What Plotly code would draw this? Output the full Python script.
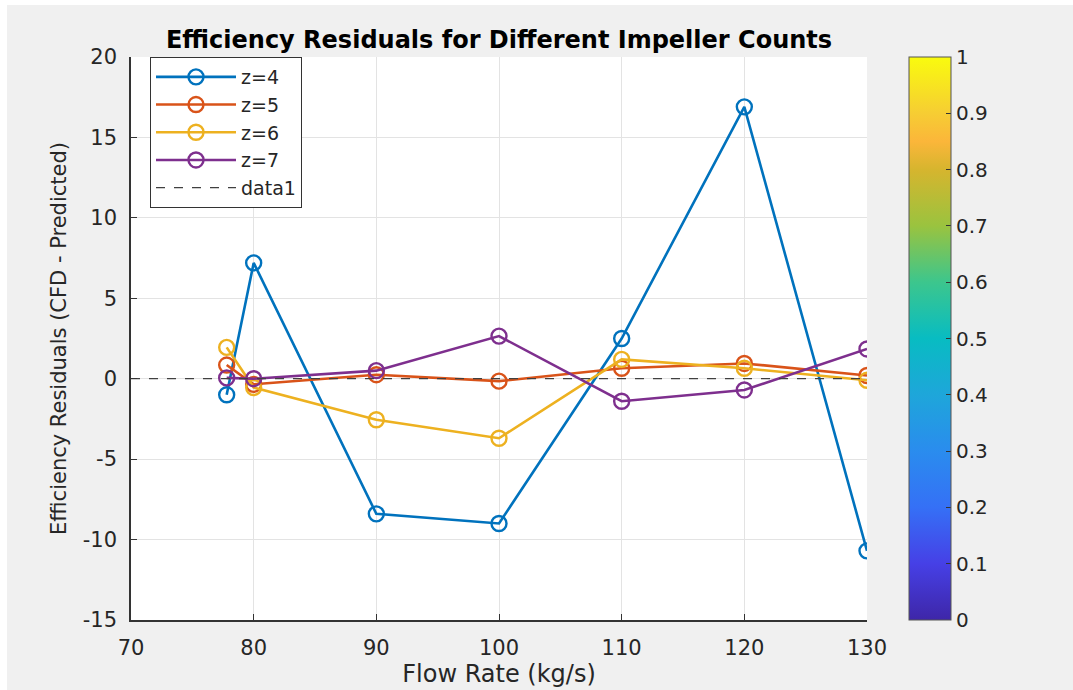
import plotly.graph_objects as go

flow = [77.8, 80, 90, 100, 110, 120, 130]
z4 = [-1.0, 7.2, -8.4, -9.0, 2.5, 16.9, -10.7]
z5 = [0.85, -0.35, 0.25, -0.15, 0.65, 0.95, 0.2]
z6 = [1.95, -0.55, -2.55, -3.7, 1.2, 0.65, -0.1]
z7 = [0.05, 0.0, 0.5, 2.65, -1.4, -0.7, 1.85]
series_names = ["z=4", "z=5", "z=6", "z=7"]
series_colors = ["#0072BD", "#D95319", "#EDB120", "#7E2F8E"]
ref_x = [70, 130]
ref_y = [0, 0]
xticks = [70, 80, 90, 100, 110, 120, 130]
yticks = [-15, -10, -5, 0, 5, 10, 15, 20]
cbar_ticks = [0, 0.1, 0.2, 0.3, 0.4, 0.5, 0.6, 0.7, 0.8, 0.9, 1]

parula = [
    [0.0, "#3e26a8"], [0.1, "#4640e6"], [0.2, "#3570f6"], [0.3, "#2a8cee"],
    [0.4, "#1ea6da"], [0.5, "#08bcc2"], [0.6, "#3cc68d"], [0.7, "#9ac33f"],
    [0.8, "#d6b52e"], [0.85, "#fbb63a"], [0.9, "#f6cd33"], [1.0, "#f9fb0e"],
]

TXT = "#262626"
FONT = "DejaVu Sans, Liberation Sans, Arial, sans-serif"

# plot-area pixel box
L, R, T, B = 131, 867, 57, 620
W, H = 1073, 690
PW, PH = R - L, B - T

fig = go.Figure()
for name, ys, col in zip(series_names, [z4, z5, z6, z7], series_colors):
    fig.add_trace(go.Scatter(
        x=flow, y=ys, name=name, mode="lines+markers",
        line=dict(color=col, width=2.6),
        marker=dict(symbol="circle-open", size=15, color=col, line=dict(width=2.4, color=col)),
    ))
fig.add_trace(go.Scatter(
    x=ref_x, y=ref_y, name="data1", mode="lines",
    line=dict(color="#404040", width=1.2, dash="dash"),
))
fig.add_trace(go.Scatter(
    x=[None], y=[None], mode="markers", showlegend=False, hoverinfo="skip",
    marker=dict(size=0, color=[0, 1], cmin=0, cmax=1, colorscale=parula, showscale=True,
                colorbar=dict(
                    x=(909 - L) / PW, xanchor="left", xpad=0, ypad=0,
                    y=0, yanchor="bottom", len=1, lenmode="fraction",
                    thickness=42, outlinecolor="#555555", outlinewidth=1,
                    tickvals=cbar_ticks, ticktext=[f"{v:g}" for v in cbar_ticks],
                    ticks="inside", ticklen=5, tickcolor="#333333",
                    tickfont=dict(family=FONT, size=20, color=TXT),
                )),
))

fig.update_layout(
    width=W, height=H,
    margin=dict(l=L, r=W - R, t=T, b=H - B, autoexpand=False),
    paper_bgcolor="#f0f0f0", plot_bgcolor="#ffffff",
    font=dict(family=FONT, color=TXT),
    title=dict(text="<b>Efficiency Residuals for Different Impeller Counts</b>",
               x=(L + R) / 2 / W, xanchor="center",
               y=1 - 40 / H, yanchor="middle",
               font=dict(family=FONT, size=24, color="#000000")),
    showlegend=True,
    legend=dict(x=(150 - L) / PW, y=1, xanchor="left", yanchor="top",
                bgcolor="#ffffff", bordercolor="#333333", borderwidth=1,
                font=dict(family=FONT, size=19, color=TXT), tracegroupgap=0,
                itemwidth=80),
    shapes=[
        dict(type="rect", xref="paper", yref="paper", layer="above",
             x0=(0 - L) / PW - 0.01, x1=(7 - L) / PW,
             y0=(B - H) / PH - 0.01, y1=B / PH + 0.01,
             fillcolor="#ffffff", line=dict(width=0)),
        dict(type="rect", xref="paper", yref="paper", layer="above",
             x0=(0 - L) / PW - 0.01, x1=(W - L) / PW + 0.01,
             y0=(B - 5) / PH, y1=B / PH + 0.01,
             fillcolor="#ffffff", line=dict(width=0)),
    ],
)
fig.update_xaxes(range=[70, 130], tickvals=xticks, ticktext=[str(v) for v in xticks],
                 automargin=False,
                 showgrid=True, gridcolor="#e3e3e3",
                 gridwidth=1, zeroline=False, showline=True, linecolor="#333333", linewidth=1.5,
                 ticks="inside", ticklen=6, tickcolor="#333333", ticklabelstandoff=8,
                 tickfont=dict(family=FONT, size=21, color=TXT),
                 title=dict(text="Flow Rate (kg/s)", font=dict(family=FONT, size=24, color=TXT), standoff=6))
fig.update_yaxes(range=[-15, 20], tickvals=yticks, ticktext=[str(v) for v in yticks],
                 automargin=False,
                 showgrid=True, gridcolor="#e3e3e3",
                 gridwidth=1, zeroline=False, showline=True, linecolor="#333333", linewidth=1.5,
                 ticks="inside", ticklen=6, tickcolor="#333333", ticklabelstandoff=8,
                 tickfont=dict(family=FONT, size=21, color=TXT),
                 title=dict(text="Efficiency Residuals (CFD - Predicted)",
                            font=dict(family=FONT, size=21, color=TXT), standoff=10))

fig.write_html("out.html")
